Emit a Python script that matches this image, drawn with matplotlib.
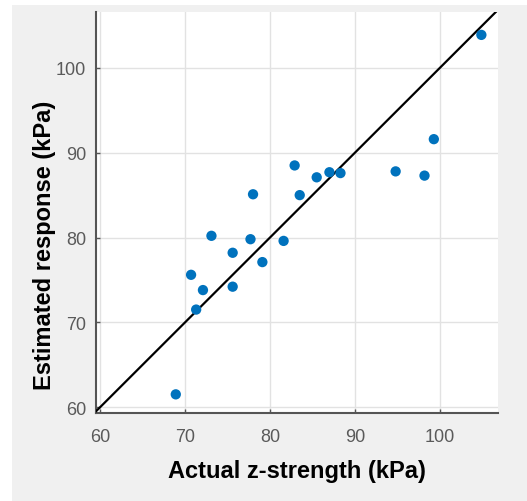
import matplotlib
matplotlib.use("Agg")
import matplotlib.pyplot as plt
from matplotlib.patches import Rectangle

# Actual vs estimated strength (kPa)
actual = [104.9, 99.3, 94.8, 98.2, 82.9, 85.5, 87.0, 88.3, 78.0, 83.5,
          73.1, 77.7, 81.6, 75.6, 79.1, 70.7, 72.1, 75.6, 71.3, 68.9]
estimated = [103.9, 91.6, 87.8, 87.3, 88.5, 87.1, 87.7, 87.6, 85.1, 85.0,
             80.2, 79.8, 79.6, 78.2, 77.1, 75.6, 73.8, 74.2, 71.5, 61.5]
ticks = [60, 70, 80, 90, 100]
xlim = (59.5, 106.8)
ylim = (59.3, 106.6)

plt.rcParams["font.family"] = ["Liberation Sans", "DejaVu Sans"]

W, H = 527, 502
fig = plt.figure(figsize=(W / 100, H / 100), dpi=100)
fig.patch.set_facecolor("white")
# grey MATLAB-style figure panel
fig.patches.append(Rectangle((12 / W, 0), 1, 1 - 6 / H, transform=fig.transFigure,
                             facecolor="#f0f0f0", edgecolor="none", zorder=-10))

ax = fig.add_axes([96 / W, (H - 414) / H, (497.5 - 96) / W, (414 - 13) / H])
ax.set_facecolor("white")

ax.plot([xlim[0], xlim[1]], [xlim[0], xlim[1]], color="black", lw=1.6, zorder=3)
ax.scatter(actual, estimated, s=55, color="#0072BD", edgecolors="none", zorder=4)

ax.set_xlim(*xlim)
ax.set_ylim(*ylim)
ax.set_xticks(ticks)
ax.set_yticks(ticks)
ax.grid(True, color="#e2e2e2", lw=1.0)
ax.set_axisbelow(True)

for s in ["top", "right"]:
    ax.spines[s].set_visible(False)
for s in ["left", "bottom"]:
    ax.spines[s].set_color("#555555")
    ax.spines[s].set_linewidth(1.5)

ax.tick_params(axis="both", direction="in", length=3, width=1, color="#555555",
               labelcolor="#5a5a5a", labelsize=13)
ax.tick_params(axis="x", pad=11)
ax.tick_params(axis="y", pad=7)

ax.set_xlabel("Actual z-strength (kPa)", fontsize=17, fontweight="bold")
ax.set_ylabel("Estimated response (kPa)", fontsize=17, fontweight="bold")
ax.xaxis.set_label_coords(0.5, -0.115)
ax.yaxis.set_label_coords(-0.10, 0.42)

fig.savefig("out.png", dpi=100)
